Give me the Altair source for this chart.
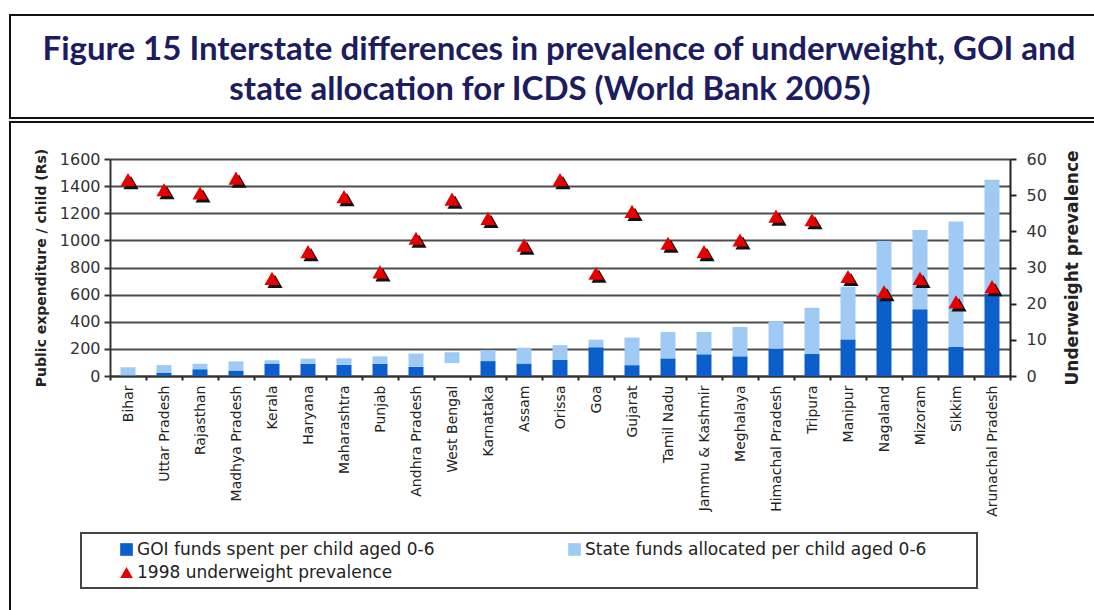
import altair as alt
import pandas as pd

# ---------------- data ----------------
states = ["Bihar", "Uttar Pradesh", "Rajasthan", "Madhya Pradesh", "Kerala", "Haryana",
          "Maharashtra", "Punjab", "Andhra Pradesh", "West Bengal", "Karnataka", "Assam",
          "Orissa", "Goa", "Gujarat", "Tamil Nadu", "Jammu & Kashmir", "Meghalaya",
          "Himachal Pradesh", "Tripura", "Manipur", "Nagaland", "Mizoram", "Sikkim",
          "Arunachal Pradesh"]
goi_funds = [5, 25, 50, 40, 92, 90, 82, 90, 68, 95, 110, 92, 120, 212, 80, 130, 160, 145,
             202, 162, 270, 592, 493, 214, 609]
state_funds = [59, 55, 40, 68, 24, 38, 48, 55, 97, 80, 80, 116, 107, 56, 203, 195, 165, 217,
               201, 341, 388, 404, 584, 925, 838]
prevalence = [54.3, 51.5, 50.6, 54.7, 27.0, 34.4, 49.6, 28.8, 38.1, 48.9, 43.6, 36.2, 54.3,
              28.4, 45.5, 36.7, 34.4, 37.6, 44.2, 43.2, 27.5, 23.3, 27.0, 20.5, 24.7]
left_ticks = [0, 200, 400, 600, 800, 1000, 1200, 1400, 1600]
right_ticks = [0, 10, 20, 30, 40, 50, 60]
title_lines = ["Figure 15 Interstate differences in prevalence of underweight, GOI and",
               "state allocation for ICDS (World Bank 2005)"]
legend_labels = ["GOI funds spent per child aged 0-6",
                 "State funds allocated per child aged 0-6",
                 "1998 underweight prevalence"]
left_title = "Public expenditure / child (Rs)"
right_title = "Underweight prevalence"

DARK = "#0a5fcb"
LIGHT = "#9fcaf3"
RED = "#e60000"
FONT = "DejaVu Sans"

df = pd.DataFrame({"state": states, "goi": goi_funds, "stf": state_funds, "prev": prevalence})
one = pd.DataFrame({"k": [0]})
base = alt.Chart(df)

x_enc = alt.X("state:N", sort=states, title=None,
              scale=alt.Scale(paddingInner=0, paddingOuter=0),
              axis=alt.Axis(labelAngle=270, labelFont=FONT, labelFontSize=14, labelColor="#222",
                            labelPadding=5, labelLimit=300, tickBand="extent", tickSize=4,
                            tickWidth=2, tickColor="#222", domainColor="#333", domainWidth=2,
                            grid=False))

left_axis = alt.Axis(title=left_title, values=left_ticks, format="d", titleFont=FONT,
                     titleFontWeight="bold", titleFontSize=14, titleColor="#222", titlePadding=11,
                     labelFont=FONT, labelFontSize=16, labelColor="#333", labelPadding=4,
                     tickSize=6, tickWidth=2, tickColor="#333", domainColor="#333", domainWidth=2,
                     grid=True, gridColor="#4d4d4d", gridWidth=2)
left_scale = alt.Scale(domain=[0, 1600], nice=False)

right_axis = alt.Axis(orient="right", title=right_title, values=right_ticks, format="d",
                      titleAngle=270, titleBaseline="top", titleFont=FONT, titleFontWeight="bold",
                      titleFontSize=17, titleColor="#222", titlePadding=18, labelFont=FONT,
                      labelFontSize=16, labelColor="#333", labelPadding=10, tickSize=6,
                      tickWidth=2, tickColor="#222", domainColor="#222", domainWidth=2,
                      grid=False)
right_scale = alt.Scale(domain=[0, 60], nice=False)


def leg(x, y, **kw):
    return alt.Legend(orient="none", legendX=x, legendY=y, title=None, symbolSize=160,
                      symbolStrokeWidth=0, labelFont=FONT, labelFontSize=17, labelColor="#222",
                      labelOffset=2, padding=0, labelLimit=600, **kw)


goi_bar = base.transform_calculate(lab="'" + legend_labels[0] + "'").mark_bar(size=15).encode(
    x=x_enc,
    y=alt.Y("goi:Q", scale=left_scale, axis=left_axis),
    color=alt.Color("lab:N", scale=alt.Scale(domain=[legend_labels[0]], range=[DARK]),
                    legend=leg(8, 382, symbolType="square")),
    opacity=alt.condition(alt.datum.state == "West Bengal", alt.value(0), alt.value(1)),
)

state_bar = base.transform_calculate(
    top="datum.goi + datum.stf", lab2="'" + legend_labels[1] + "'"
).mark_bar(size=15).encode(
    x=x_enc,
    y=alt.Y("goi:Q", scale=left_scale, axis=left_axis),
    y2="top:Q",
    color=alt.Color("lab2:N", scale=alt.Scale(domain=[legend_labels[1]], range=[LIGHT]),
                    legend=leg(456, 382, symbolType="square")),
)

bars = alt.layer(goi_bar, state_bar).resolve_scale(color="independent")

shadow = base.mark_point(shape="triangle-up", filled=True, size=230, color="#111", opacity=1,
                         xOffset=3, yOffset=3).encode(
    x=x_enc, y=alt.Y("prev:Q", scale=right_scale, axis=right_axis))

tri = base.transform_calculate(lab3="'" + legend_labels[2] + "'").mark_point(
    filled=True, size=230, color=RED, opacity=1).encode(
    x=x_enc,
    y=alt.Y("prev:Q", scale=right_scale, axis=right_axis),
    shape=alt.Shape("lab3:N", scale=alt.Scale(domain=[legend_labels[2]], range=["triangle-up"]),
                    legend=leg(8, 405, symbolFillColor=RED)),
)

points = alt.layer(shadow, tri)

# decorative frames
title_box = alt.Chart(one).mark_rect(fill="white", fillOpacity=0, stroke="#111", strokeWidth=2).encode(
    x=alt.value(-100), x2=alt.value(1000), y=alt.value(-144), y2=alt.value(-41))
chart_box = alt.Chart(one).mark_rect(fill="white", fillOpacity=0, stroke="#111", strokeWidth=2).encode(
    x=alt.value(-100), x2=alt.value(1000), y=alt.value(-37), y2=alt.value(480))
legend_box = alt.Chart(one).mark_rect(fill="white", fillOpacity=0, stroke="#444", strokeWidth=2).encode(
    x=alt.value(-29), x2=alt.value(867), y=alt.value(374), y2=alt.value(429))

t1 = alt.Chart(one).mark_text(font="Lato", fontWeight="bold", fontSize=33, color="#1c1c5e",
                              align="center", baseline="alphabetic").encode(
    x=alt.value(449), y=alt.value(-99), text=alt.value(title_lines[0]))
t2 = alt.Chart(one).mark_text(font="Lato", fontWeight="bold", fontSize=33, color="#1c1c5e",
                              align="center", baseline="alphabetic").encode(
    x=alt.value(440), y=alt.value(-59), text=alt.value(title_lines[1]))

chart = alt.layer(title_box, chart_box, legend_box, bars, points, t1, t2).resolve_scale(
    y="independent", color="independent", shape="independent"
).properties(
    width=900, height=217,
    autosize=alt.AutoSizeParams(type="none"),
    padding={"left": 110, "top": 159, "right": 84, "bottom": 234},
    background="white",
).configure_view(strokeWidth=0)

chart.save("out.html", embed_options={"renderer": "svg", "actions": False})
